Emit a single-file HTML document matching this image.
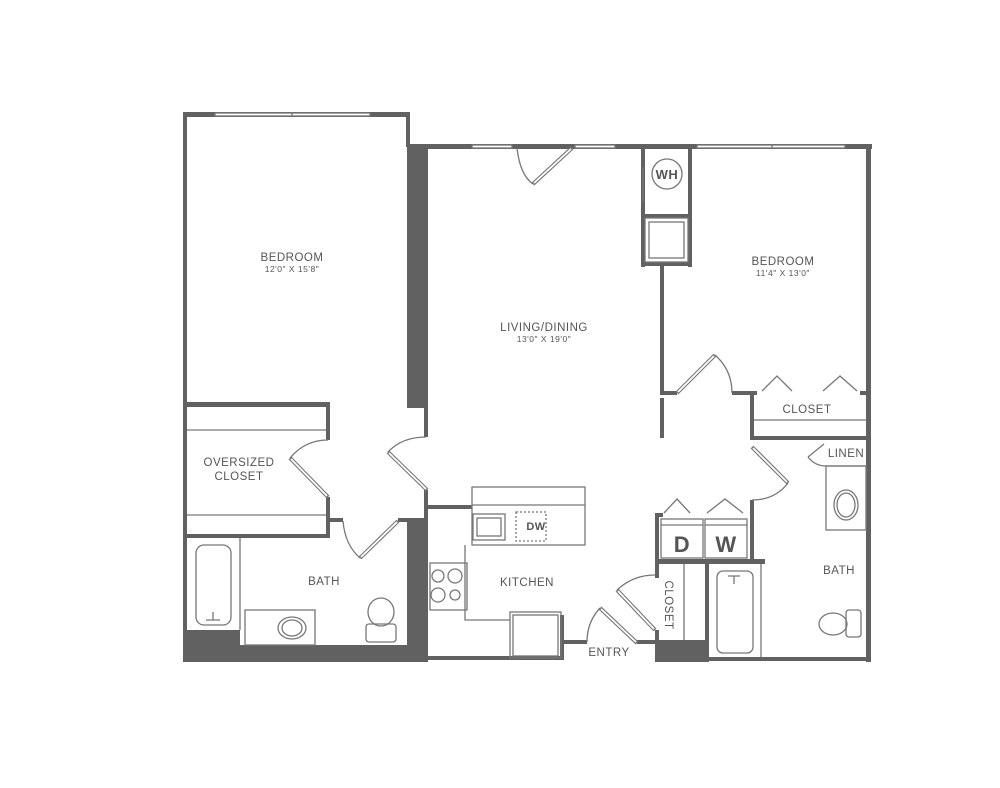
<!DOCTYPE html>
<html><head><style>html,body{margin:0;padding:0;background:#fff}svg{display:block}</style></head>
<body>
<svg width="1000" height="788" viewBox="0 0 1000 788" xmlns="http://www.w3.org/2000/svg" font-family="Liberation Sans, sans-serif">
<g fill="#616161" stroke="none">
<rect x="183" y="112" width="4" height="550"/>
<rect x="183" y="112" width="227" height="5"/>
<rect x="406" y="112" width="4" height="35"/>
<rect x="407" y="144" width="21" height="264"/>
<rect x="407" y="144" width="465" height="5"/>
<rect x="424" y="405" width="4" height="32"/>
<rect x="424" y="490" width="4" height="170"/>
<rect x="428" y="505" width="44" height="4"/>
<rect x="185" y="402" width="145" height="5"/>
<rect x="326" y="402" width="4" height="38"/>
<rect x="326" y="497" width="4" height="40"/>
<rect x="185" y="534" width="145" height="4"/>
<rect x="328" y="518" width="15" height="4"/>
<rect x="398" y="518" width="12" height="4"/>
<rect x="407" y="518" width="21" height="144"/>
<rect x="183" y="630" width="57" height="32"/>
<rect x="240" y="645" width="170" height="17"/>
<rect x="641" y="147" width="4" height="120"/>
<rect x="688" y="147" width="4" height="120"/>
<rect x="641" y="214" width="51" height="4"/>
<rect x="641" y="262" width="51" height="4"/>
<rect x="660" y="262" width="4" height="133"/>
<rect x="660" y="398" width="4" height="40"/>
<rect x="866" y="144" width="5" height="518"/>
<rect x="660" y="391" width="17" height="4"/>
<rect x="732" y="391" width="25" height="4"/>
<rect x="860" y="391" width="8" height="4"/>
<rect x="750" y="391" width="4" height="49"/>
<rect x="750" y="436" width="118" height="4"/>
<rect x="750" y="500" width="4" height="62"/>
<rect x="655" y="513" width="4" height="50"/>
<rect x="655" y="513" width="8" height="4"/>
<rect x="655" y="559" width="110" height="5"/>
<rect x="655" y="559" width="4" height="19"/>
<rect x="655" y="630" width="4" height="32"/>
<rect x="655" y="640" width="53" height="22"/>
<rect x="705" y="559" width="4" height="103"/>
<rect x="428" y="656" width="132" height="4"/>
<rect x="560" y="615" width="4" height="45"/>
<rect x="560" y="640" width="27" height="4"/>
<rect x="637" y="640" width="20" height="4"/>
<rect x="705" y="657" width="166" height="4"/>
</g>
<g fill="none" stroke="#777" stroke-width="1.3">
<rect x="215" y="113" width="155" height="3" fill="#fff"/><line x1="292" y1="113" x2="292" y2="116"/>
<rect x="472" y="145" width="40" height="3" fill="#fff"/>
<rect x="575" y="145" width="40" height="3" fill="#fff"/>
<rect x="697" y="145" width="148" height="3" fill="#fff"/><line x1="772" y1="145" x2="772" y2="148"/>
<g stroke-width="4">
<line x1="572" y1="148" x2="533" y2="184"/>
<line x1="388" y1="452" x2="427" y2="490"/>
<line x1="290" y1="458" x2="328" y2="497"/>
<line x1="398" y1="521" x2="360" y2="558"/>
<line x1="677" y1="393" x2="715" y2="355"/>
<line x1="752" y1="447" x2="788" y2="483"/>
<line x1="617" y1="590" x2="655" y2="630"/>
<line x1="600" y1="608" x2="637" y2="643"/>
</g>
<g stroke="#fff" stroke-width="1.8">
<line x1="571" y1="149" x2="534" y2="183"/>
<line x1="389" y1="453" x2="426" y2="489"/>
<line x1="291" y1="459" x2="327" y2="496"/>
<line x1="397" y1="522" x2="361" y2="557"/>
<line x1="678" y1="392" x2="714" y2="356"/>
<line x1="753" y1="448" x2="787" y2="482"/>
<line x1="618" y1="591" x2="654" y2="629"/>
<line x1="601" y1="609" x2="636" y2="642"/>
</g>
<path d="M517 148 Q520 175 533 184"/>
<path d="M388 452 Q402 437 426 437"/>
<path d="M290 458 Q305 440 328 440"/>
<path d="M343 521 Q345 545 360 558"/>
<path d="M715 355 Q732 370 732 393"/>
<path d="M788 483 Q775 500 752 500"/>
<path d="M617 590 Q633 575 655 575"/>
<path d="M600 608 Q587 622 587 642"/>
<path d="M808 457 L824 444 M808 457 Q815 466 826 466"/>
<path d="M762 391 L777 376 L792 391 M823 391 L840 376 L857 391"/>
<path d="M664 513 L677 499 L690 513 M707 513 L725 499 L743 513"/>
<line x1="187" y1="430" x2="326" y2="430"/><line x1="187" y1="515" x2="326" y2="515"/>
<line x1="754" y1="420" x2="866" y2="420"/>
<line x1="826" y1="466" x2="866" y2="466"/><rect x="826" y="466" width="40" height="64"/>
<ellipse cx="846" cy="505" rx="12" ry="15"/><ellipse cx="846" cy="505" rx="9" ry="12"/>
<line x1="643" y1="167" x2="643" y2="202"/><circle cx="667" cy="174" r="15"/>
<rect x="645" y="218" width="43" height="44"/><rect x="649" y="222" width="35" height="36"/>
<rect x="661" y="519" width="42" height="39"/><line x1="661" y1="525" x2="703" y2="525"/>
<rect x="705" y="519" width="42" height="39"/><line x1="705" y1="525" x2="747" y2="525"/>
<line x1="684" y1="564" x2="684" y2="640"/>
<line x1="761" y1="564" x2="761" y2="657"/>
<rect x="717" y="571" width="36" height="82" rx="6"/>
<path d="M728 576 h12 M734 576 v8"/>
<rect x="846" y="610" width="15" height="27" rx="3"/><ellipse cx="833" cy="624" rx="14" ry="11"/>
<line x1="240" y1="538" x2="240" y2="630"/>
<rect x="196" y="545" width="35" height="80" rx="8"/>
<path d="M206 620 h14 M213 612 v8"/>
<rect x="245" y="610" width="70" height="35"/><ellipse cx="292" cy="628" rx="14" ry="11"/><ellipse cx="292" cy="628" rx="10" ry="8"/>
<ellipse cx="381" cy="612" rx="13" ry="14"/><rect x="366" y="624" width="30" height="18" rx="3"/>
<rect x="472" y="487" width="113" height="58"/><line x1="472" y1="505" x2="585" y2="505"/>
<path d="M465 545 V620 H510"/>
<rect x="473" y="514" width="32" height="26"/><rect x="477" y="518" width="24" height="18"/>
<rect x="516" y="512" width="30" height="29" stroke-dasharray="2 2"/>
<rect x="430" y="563" width="37" height="47"/>
<circle cx="438" cy="576" r="6"/><circle cx="455" cy="576" r="7"/><circle cx="438" cy="595" r="7"/><circle cx="455" cy="595" r="5"/>
<rect x="510" y="612" width="51" height="46"/><rect x="513" y="615" width="45" height="41"/>
</g>
<g fill="#555" text-anchor="middle" letter-spacing="0.5">
<text x="292" y="261" font-size="11.5">BEDROOM</text><text x="292" y="272" font-size="8.5">12'0" X 15'8"</text>
<text x="544" y="331" font-size="11.5">LIVING/DINING</text><text x="544" y="342" font-size="8.5">13'0" X 19'0"</text>
<text x="783" y="265" font-size="11.5">BEDROOM</text><text x="783" y="276" font-size="8.5">11'4" X 13'0"</text>
<text x="807" y="413" font-size="11.5">CLOSET</text>
<text x="846" y="457" font-size="11.5">LINEN</text>
<text x="239" y="466" font-size="11.5">OVERSIZED</text><text x="239" y="480" font-size="11.5">CLOSET</text>
<text x="324" y="585" font-size="11.5">BATH</text>
<text x="527" y="586" font-size="11.5">KITCHEN</text>
<text x="839" y="574" font-size="11.5">BATH</text>
<text x="609" y="656" font-size="11.5">ENTRY</text>
<text x="0" y="0" font-size="11.5" transform="translate(665,605) rotate(90)">CLOSET</text>
<text x="667" y="179" font-size="13" font-weight="bold">WH</text>
<text x="536" y="530" font-size="11" font-weight="bold">DW</text>
<text x="682" y="552" font-size="22" font-weight="bold">D</text>
<text x="726" y="552" font-size="22" font-weight="bold">W</text>
</g>
</svg>
</body></html>
